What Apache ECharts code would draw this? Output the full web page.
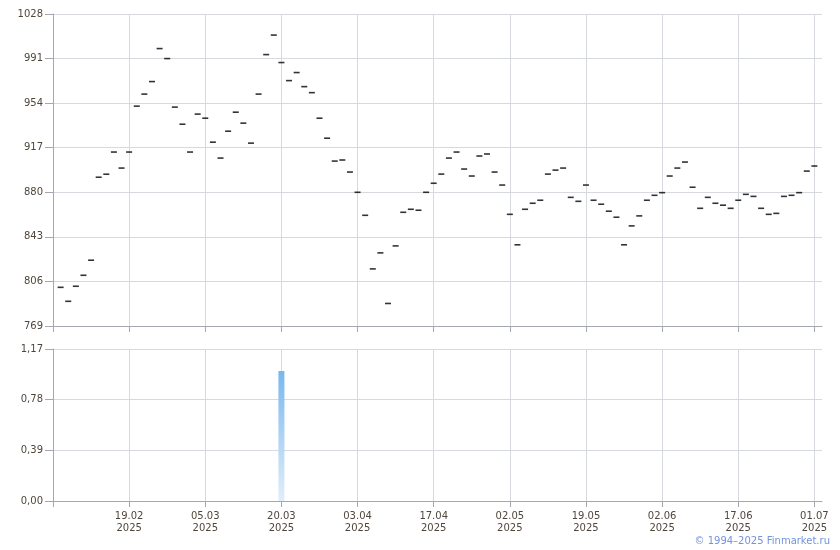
<!DOCTYPE html>
<html>
<head>
<meta charset="utf-8">
<script src="https://cdn.jsdelivr.net/npm/echarts@6/dist/echarts.min.js"></script>
<style>
html,body{margin:0;padding:0;background:#fff;}
#chart{width:840px;height:550px;}
</style>
</head>
<body>
<div id="chart"></div>
<script>
const dates = [
 '06.02.2025','07.02.2025','10.02.2025','11.02.2025','12.02.2025','13.02.2025','14.02.2025','17.02.2025','18.02.2025','19.02.2025',
 '20.02.2025','21.02.2025','24.02.2025','25.02.2025','26.02.2025','27.02.2025','28.02.2025','03.03.2025','04.03.2025','05.03.2025',
 '06.03.2025','07.03.2025','11.03.2025','12.03.2025','13.03.2025','14.03.2025','17.03.2025','18.03.2025','19.03.2025','20.03.2025',
 '21.03.2025','24.03.2025','25.03.2025','26.03.2025','27.03.2025','28.03.2025','31.03.2025','01.04.2025','02.04.2025','03.04.2025',
 '04.04.2025','07.04.2025','08.04.2025','09.04.2025','10.04.2025','11.04.2025','14.04.2025','15.04.2025','16.04.2025','17.04.2025',
 '18.04.2025','21.04.2025','22.04.2025','23.04.2025','24.04.2025','25.04.2025','28.04.2025','29.04.2025','30.04.2025','02.05.2025',
 '05.05.2025','06.05.2025','07.05.2025','08.05.2025','12.05.2025','13.05.2025','14.05.2025','15.05.2025','16.05.2025','19.05.2025',
 '20.05.2025','21.05.2025','22.05.2025','23.05.2025','26.05.2025','27.05.2025','28.05.2025','29.05.2025','30.05.2025','02.06.2025',
 '03.06.2025','04.06.2025','05.06.2025','06.06.2025','09.06.2025','10.06.2025','11.06.2025','13.06.2025','16.06.2025','17.06.2025',
 '18.06.2025','19.06.2025','20.06.2025','23.06.2025','24.06.2025','25.06.2025','26.06.2025','27.06.2025','30.06.2025','01.07.2025'
];
const prices = [
 801.1,789.5,802.0,811.1,823.6,892.5,895.0,913.4,900.1,913.4,
 951.5,961.5,971.9,999.3,991.0,950.7,936.5,913.4,944.9,941.5,
 921.6,908.4,930.7,946.5,937.4,920.8,961.5,994.3,1010.5,987.7,
 972.7,979.4,967.7,962.7,941.5,924.9,905.9,906.8,896.8,880.0,
 860.9,816.4,829.7,787.7,835.5,863.4,865.9,865.1,880.0,887.5,
 895.1,908.4,913.4,899.3,893.5,910.1,911.8,896.8,886.0,861.7,
 836.4,865.9,870.9,873.4,895.1,898.4,900.1,875.8,872.5,886.0,
 873.4,870.1,864.3,859.3,836.4,852.1,860.4,873.4,877.5,879.7,
 893.5,900.1,905.1,884.2,866.7,875.8,870.9,869.3,866.7,873.4,
 878.3,876.6,866.7,861.7,862.5,876.6,877.5,879.7,897.6,901.8
];
const volumes = [
 0,0,0,0,0,0,0,0,0,0,
 0,0,0,0,0,0,0,0,0,0,
 0,0,0,0,0,0,0,0,0,1.0,
 0,0,0,0,0,0,0,0,0,0,
 0,0,0,0,0,0,0,0,0,0,
 0,0,0,0,0,0,0,0,0,0,
 0,0,0,0,0,0,0,0,0,0,
 0,0,0,0,0,0,0,0,0,0,
 0,0,0,0,0,0,0,0,0,0,
 0,0,0,0,0,0,0,0,0,0
];
const priceTicks = {min: 769, max: 1028, interval: 37};
const volTicks = {min: 0, max: 1.17, interval: 0.39};
const copyright = '© 1994–2025 Finmarket.ru';

// category axis padded with one empty slot on each side
const cats = [''].concat(dates, ['']);
const priceData = [null].concat(prices, [null]);
const volData = [null].concat(volumes.map(v => v === 0 ? null : v), [null]);

const FONT = 'DejaVu Sans';
const labelColor = '#50473c';
const gridColor = '#d6d9dd';
const axisColor = '#a6a8b0';

function xAxisCfg(gridIndex, showLabels) {
  return {
    type: 'category', gridIndex, data: cats, boundaryGap: false,
    axisLine: {show: true, lineStyle: {color: axisColor, width: 1}},
    axisTick: {show: true, interval: 9, length: 6, lineStyle: {color: axisColor}},
    axisLabel: {
      show: showLabels, interval: 9, margin: 9,
      fontFamily: FONT, fontSize: 10, color: labelColor, lineHeight: 12,
      formatter: function (v) {
        if (!v) return '';
        const p = v.split('.');
        return p[0] + '.' + p[1] + '\n' + p[2];
      }
    },
    splitLine: {show: true, interval: 9, lineStyle: {color: gridColor, width: 1}}
  };
}

const chart = echarts.init(document.getElementById('chart'), null, {renderer: 'canvas'});
chart.setOption({
  animation: false,
  backgroundColor: '#ffffff',
  grid: [
    {left: 53, right: 18, top: 14, height: 312},
    {left: 53, right: 18, top: 349, height: 152}
  ],
  xAxis: [xAxisCfg(0, false), xAxisCfg(1, true)],
  yAxis: [
    {
      type: 'value', gridIndex: 0, min: priceTicks.min, max: priceTicks.max, interval: priceTicks.interval,
      axisLine: {show: true, lineStyle: {color: axisColor}},
      axisTick: {show: true, length: 8, lineStyle: {color: axisColor}},
      axisLabel: {fontFamily: FONT, fontSize: 10, color: labelColor, margin: 10,
        formatter: v => String(Math.round(v))},
      splitLine: {show: true, lineStyle: {color: gridColor}}
    },
    {
      type: 'value', gridIndex: 1, min: volTicks.min, max: volTicks.max, interval: volTicks.interval,
      axisLine: {show: true, lineStyle: {color: axisColor}},
      axisTick: {show: true, length: 8, lineStyle: {color: axisColor}},
      axisLabel: {fontFamily: FONT, fontSize: 10, color: labelColor, margin: 10,
        formatter: v => v.toFixed(2).replace('.', ',')},
      splitLine: {show: true, lineStyle: {color: gridColor}}
    }
  ],
  series: [
    {
      type: 'scatter', xAxisIndex: 0, yAxisIndex: 0, data: priceData,
      symbol: 'rect', symbolSize: [6, 1.6],
      itemStyle: {color: '#000000'}, silent: true
    },
    {
      type: 'bar', xAxisIndex: 1, yAxisIndex: 1, data: volData, barWidth: 6,
      itemStyle: {
        color: new echarts.graphic.LinearGradient(0, 0, 0, 1, [
          {offset: 0, color: '#78b8ee'},
          {offset: 1, color: '#e2eefa'}
        ])
      }, silent: true
    }
  ],
  graphic: [{
    type: 'text', right: 10, top: 536,
    style: {text: copyright, fill: '#7393dc', font: '10px "DejaVu Sans"'}
  }]
});
</script>
</body>
</html>
